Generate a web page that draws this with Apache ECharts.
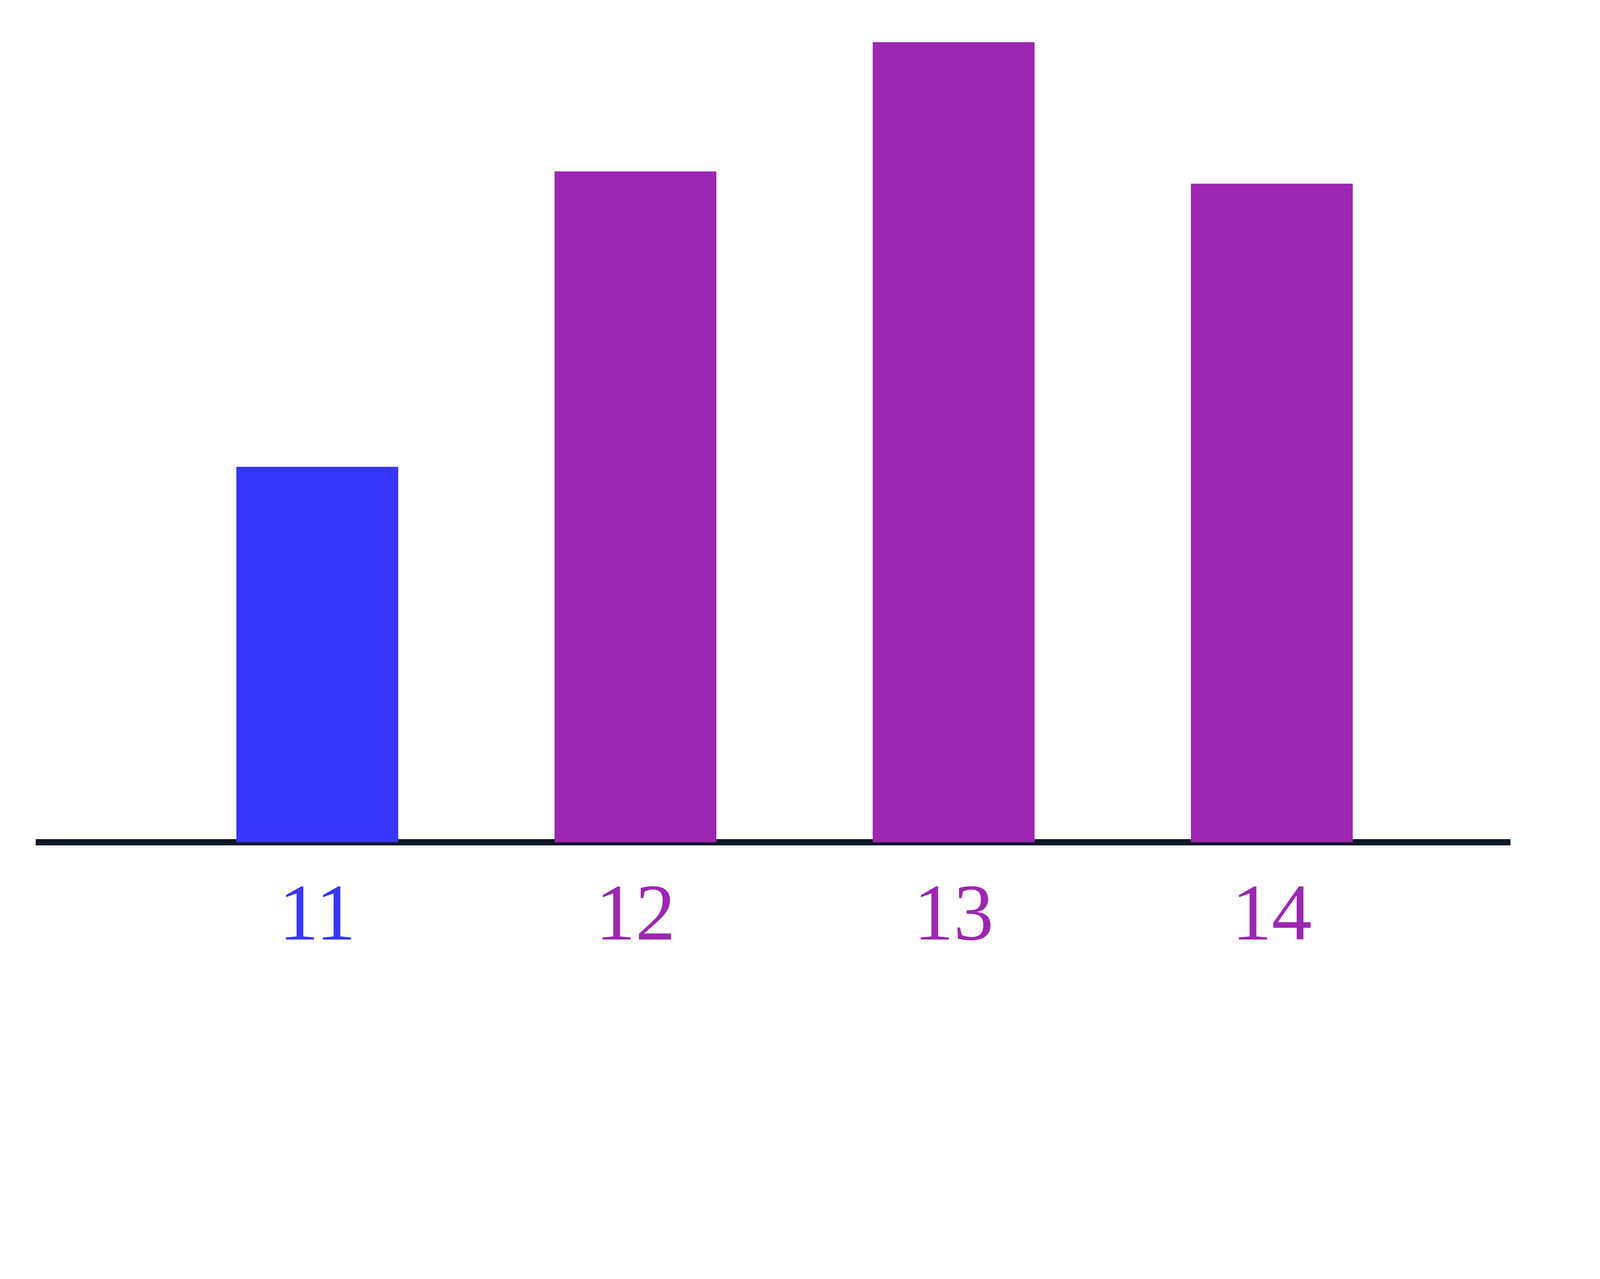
<!DOCTYPE html>
<html>
<head>
<meta charset="utf-8">
<script src="https://cdn.jsdelivr.net/npm/echarts@6/dist/echarts.min.js"></script>
<style>
  html, body { margin: 0; padding: 0; background: #fff; overflow: hidden; }
  #main { width: 100vw; height: calc(100vw * 3274 / 5200); }
</style>
</head>
<body>
<div id="main"></div>
<script>
// data
var categories = [11, 12, 13, 14];
var values = [6.1, 10.9, 13.0, 10.7];
var barColors = ['#3636FF', '#9C27B0', '#9C27B0', '#9C27B0'];

var seriesData = categories.map(function (c, i) {
    return { value: [c, values[i]], itemStyle: { color: barColors[i] } };
});

var el = document.getElementById('main');
// sizes below are measured on the 5200px wide reference, scaled to the real window
var s = el.clientWidth / 5200;

var myChart = echarts.init(el);
var option = {
    backgroundColor: '#ffffff',
    animation: false,
    grid: { left: 116 * s, right: 291 * s, top: 37 * s, bottom: 537 * s, containLabel: false },
    xAxis: {
        type: 'value',
        min: 10.115,
        max: 14.75,
        splitLine: { show: false },
        axisTick: { show: false },
        axisLine: { show: true, onZero: false, lineStyle: { color: '#111827', width: 20 * s, cap: 'butt' } },
        axisLabel: {
            customValues: categories,
            margin: 118 * s,
            fontFamily: 'Liberation Serif',
            fontSize: 260 * s,
            color: function (value) {
                var i = categories.indexOf(Number(value));
                return barColors[i] || '#9C27B0';
            }
        }
    },
    yAxis: {
        type: 'value',
        min: 0,
        max: 13.5,
        show: false,
        splitLine: { show: false }
    },
    series: [{
        type: 'bar',
        barWidth: 526 * s,
        data: seriesData
    }]
};
myChart.setOption(option);
</script>
</body>
</html>
